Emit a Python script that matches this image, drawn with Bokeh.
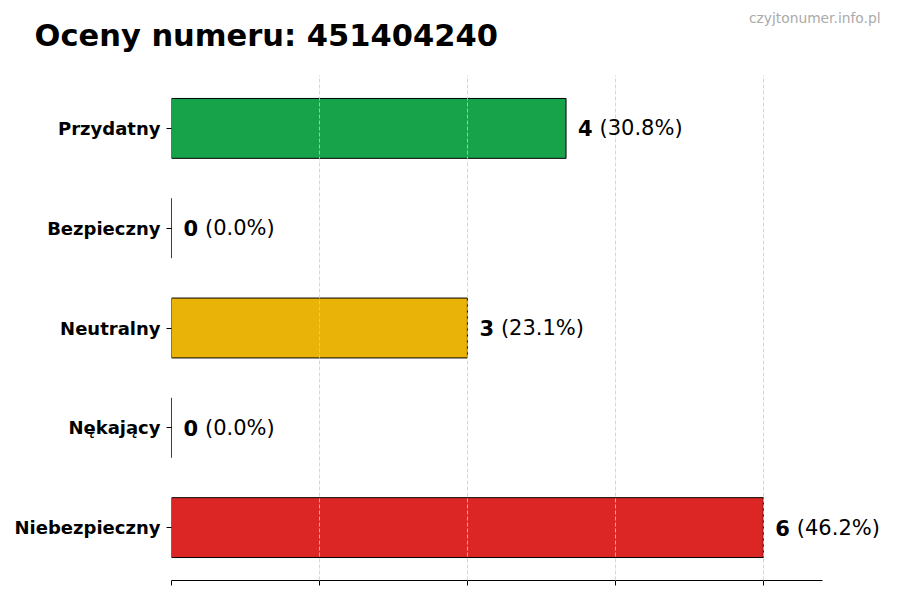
from bokeh.plotting import figure
from bokeh.models import ColumnDataSource, FactorRange, Range1d, FixedTicker, LabelSet, Label
from bokeh.core.properties import value
from bokeh.embed import file_html
from bokeh.resources import INLINE

# dane
categories = ["Przydatny", "Bezpieczny", "Neutralny", "Nękający", "Niebezpieczny"]
counts = [4, 0, 3, 0, 6]
colors = ["#16a34a", "#2563eb", "#eab308", "#f97316", "#dc2626"]
x_ticks = [0, 1.5, 3, 4.5, 6]
title_text = "Oceny numeru: 451404240"
watermark = "czyjtonumer.info.pl"

total = sum(counts)
pct = ["(%.1f%%)" % (c / total * 100) for c in counts]

src = ColumnDataSource(dict(
    cat=categories,
    cnt=counts,
    col=colors,
    num=[str(c) for c in counts],
    pct=pct,
))

FONT = "DejaVu Sans"

# oś x kończy się na 1.1 * max, ramka jest szersza, żeby zmieściły się etykiety
x_axis_end = max(counts) * 1.1
frame_w = 721
x_end = x_axis_end * frame_w / 651

p = figure(
    y_range=FactorRange(factors=categories[::-1], range_padding=0.012),
    x_range=Range1d(0, x_end),
    frame_width=frame_w, frame_height=505,
    min_border_left=171, min_border_top=75, min_border_right=0, min_border_bottom=12,
    toolbar_location=None, output_backend="svg",
)

p.hbar(y="cat", right="cnt", left=0, height=0.6, source=src,
       fill_color="col", line_color="black", line_width=1)

# etykiety wartości
p.add_layout(LabelSet(x="cnt", y="cat", text="num", source=src, x_offset=12,
                      text_font=value(FONT), text_font_style="bold", text_font_size="21px",
                      text_baseline="middle", text_align="left", text_color="black"))
p.add_layout(LabelSet(x="cnt", y="cat", text="pct", source=src, x_offset=33.5,
                      text_font=value(FONT), text_font_size="21px",
                      text_baseline="middle", text_align="left", text_color="black"))

# osie
p.xaxis.ticker = FixedTicker(ticks=x_ticks)
p.xaxis.bounds = (0, x_axis_end)
p.xaxis.major_label_overrides = {t: "" for t in x_ticks}
p.xaxis.major_label_standoff = 0
p.xaxis.minor_tick_line_color = None
p.xaxis.major_tick_in = 0
p.xaxis.major_tick_out = 5
p.xaxis.axis_line_color = "black"

p.yaxis.axis_line_color = None
p.yaxis.major_tick_in = 0
p.yaxis.major_tick_out = 5
p.yaxis.major_label_text_font = FONT
p.yaxis.major_label_text_font_style = "bold"
p.yaxis.major_label_text_font_size = "18px"
p.yaxis.major_label_text_color = "black"
p.yaxis.major_label_standoff = 6

p.ygrid.grid_line_color = None
p.xgrid.ticker = FixedTicker(ticks=x_ticks)
p.xgrid.grid_line_color = "#cccccc"
p.xgrid.grid_line_dash = "4 2"
p.xgrid.grid_line_width = 0.8
p.xgrid.level = "annotation"

p.outline_line_color = None

# tytuł
p.title.text = title_text
p.title.align = "left"
p.title.offset = -137
p.title.text_font = FONT
p.title.text_font_style = "bold"
p.title.text_font_size = "30.5px"
p.title.text_color = "black"
p.title.standoff = 14

# znak wodny w panelu nad wykresem
p.add_layout(Label(x=709, y=58, x_units="screen", y_units="screen", text=watermark,
                   text_font=FONT, text_font_size="13.8px", text_align="right",
                   text_baseline="middle", text_color="#aaaaaa"), "above")

open("out.html", "w").write(file_html(p, INLINE))
